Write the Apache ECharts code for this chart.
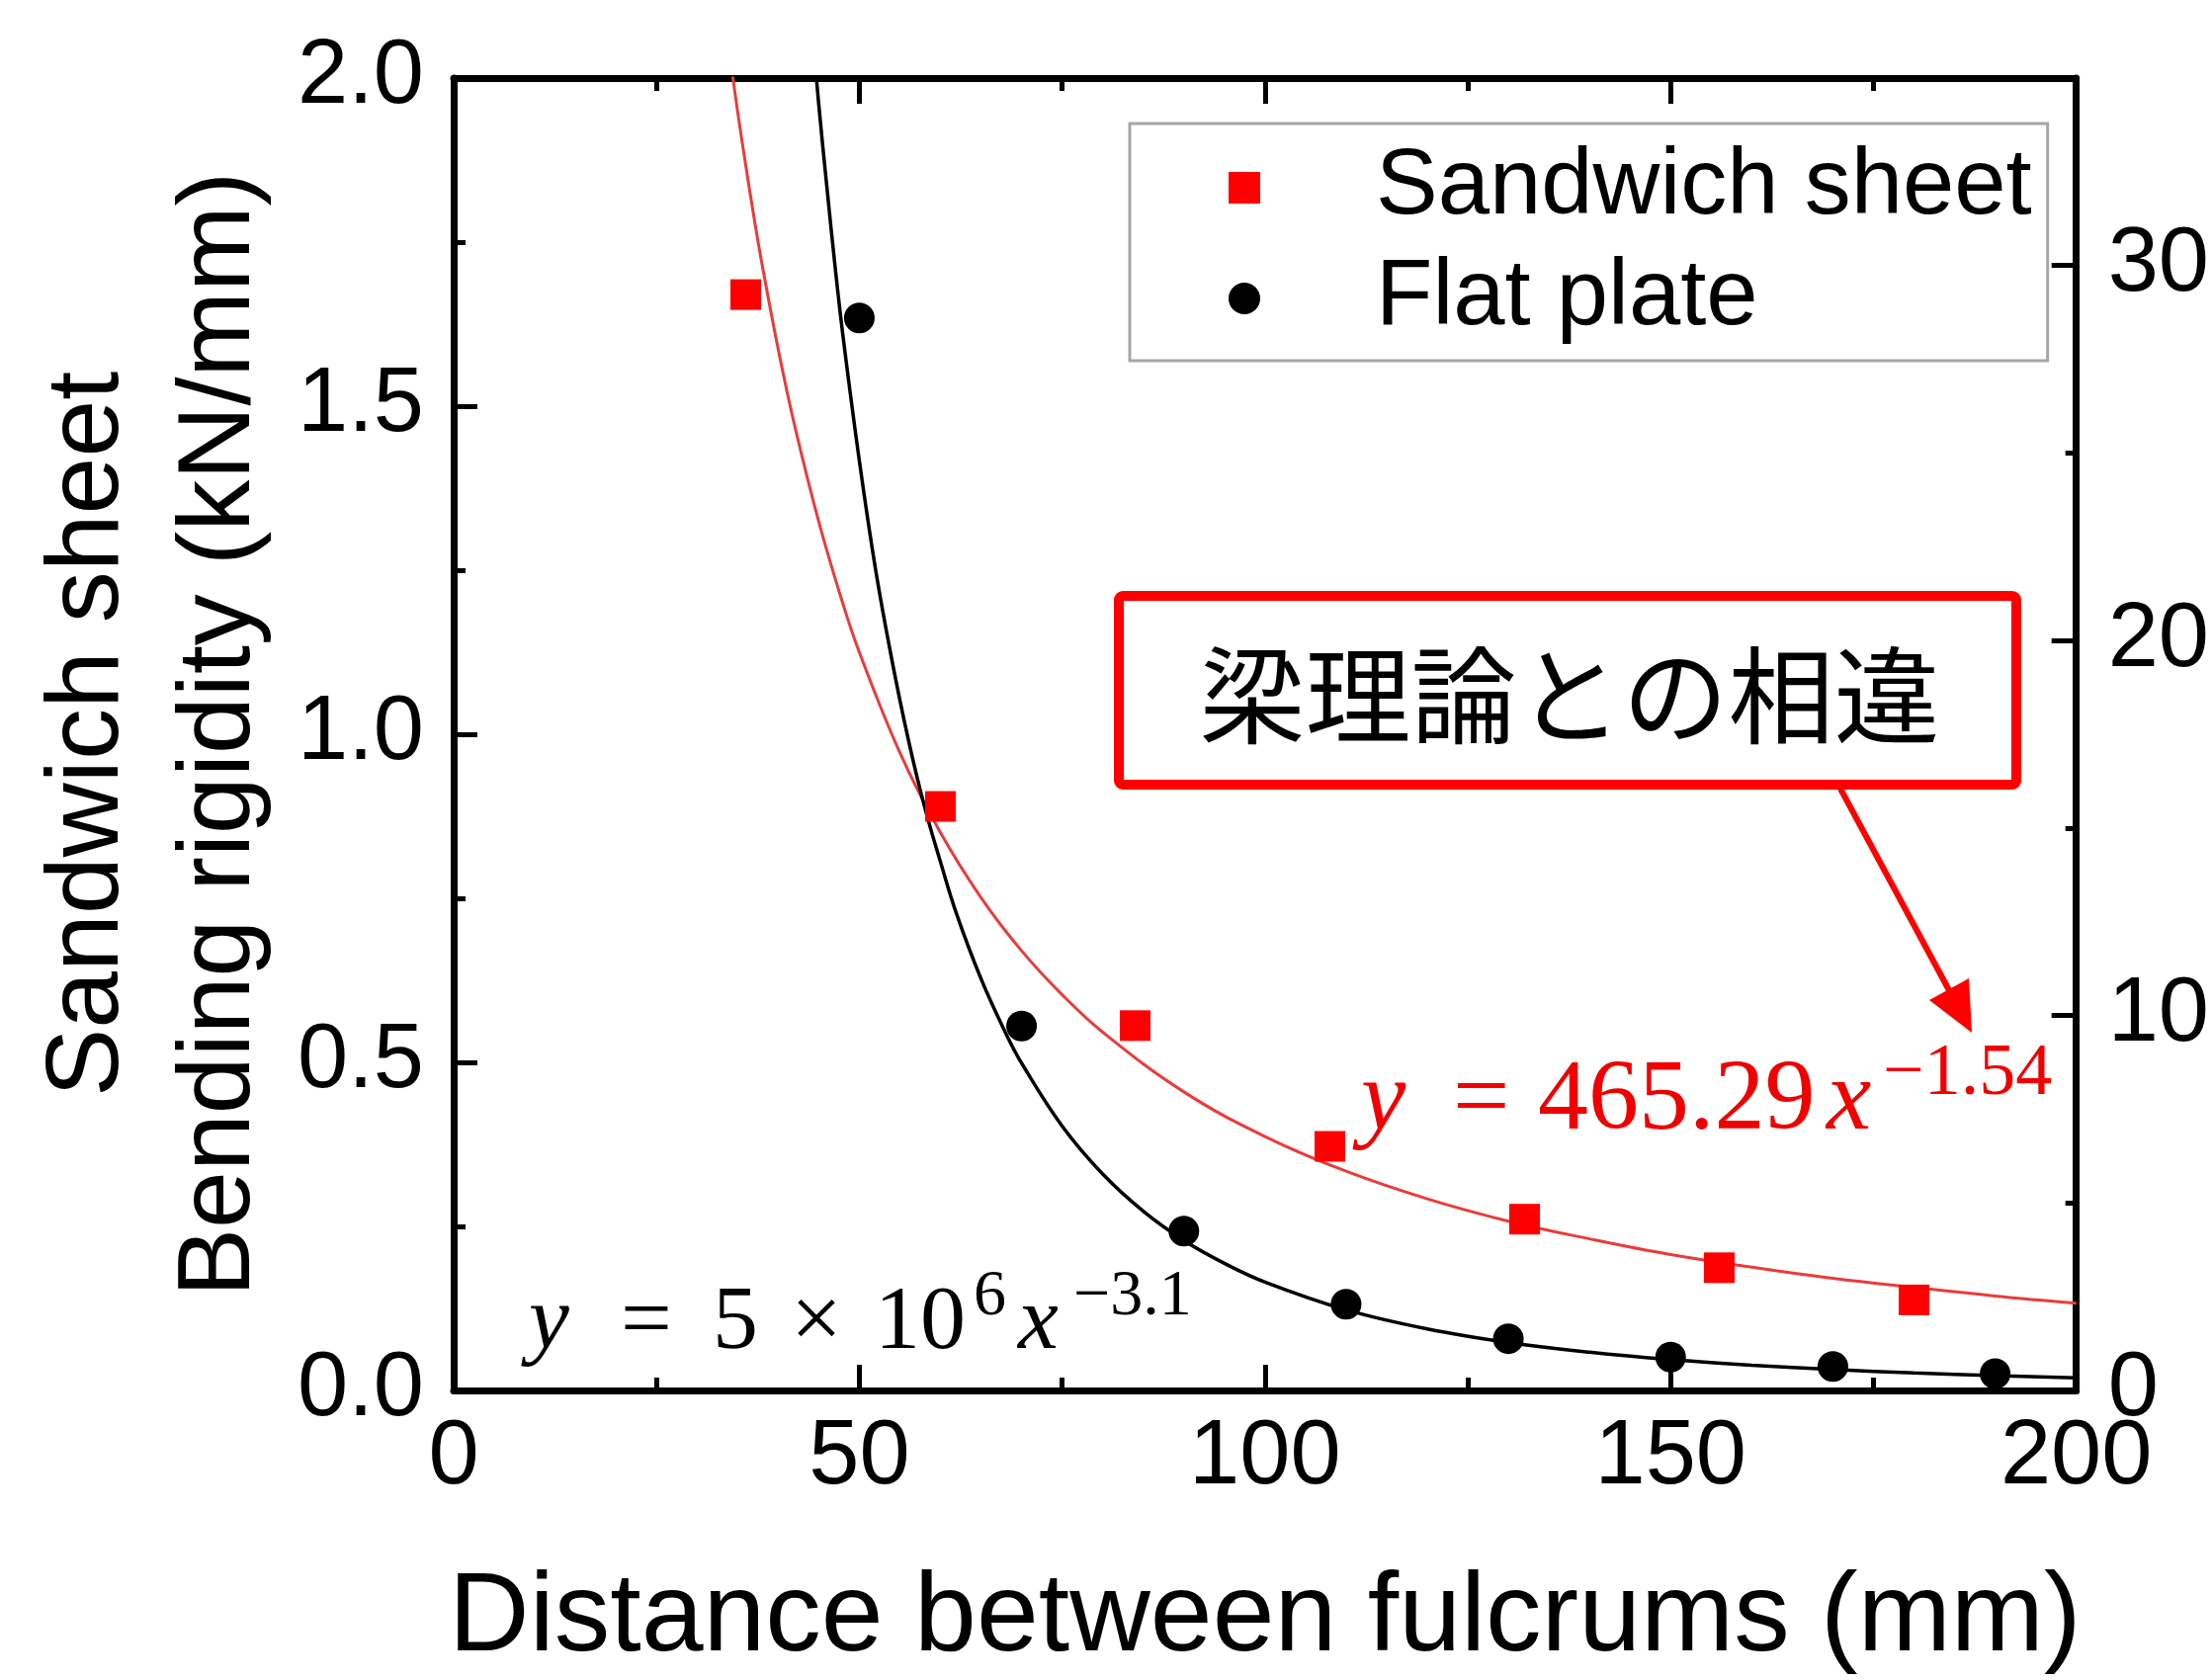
<!DOCTYPE html>
<html>
<head>
<meta charset="utf-8">
<script src="https://cdn.jsdelivr.net/npm/echarts@6/dist/echarts.min.js"></script>
<style>
html,body{margin:0;padding:0;background:#ffffff;}
#chart{width:2238px;height:1700px;}
</style>
</head>
<body>
<div id="chart"></div>
<script>
// ---- data ----
const sandwichX = [36, 60, 84, 108, 132, 156, 180];
const sandwichY = [1.67, 0.89, 0.556, 0.372, 0.261, 0.187, 0.138];
const flatX = [50, 70, 90, 110, 130, 150, 170, 190];
const flatY = [28.6, 9.72, 4.25, 2.30, 1.38, 0.89, 0.64, 0.45];

// fitted curves as drawn in the picture (sampled along the drawn curves)
const sandwichFitX = [34, 35, 36, 37, 38, 40, 42, 45, 48, 50, 55, 60, 65, 70, 75, 80, 90, 100, 110, 120, 130, 140, 150, 160, 170, 180, 190, 200];
const sandwichFitY = [2.038, 1.949, 1.867, 1.789, 1.717, 1.587, 1.472, 1.324, 1.198, 1.125, 0.972, 0.850, 0.751, 0.670, 0.603, 0.546, 0.455, 0.387, 0.334, 0.292, 0.258, 0.231, 0.207, 0.188, 0.171, 0.157, 0.144, 0.133];
const flatFitX = [44, 45, 46, 47, 48, 50, 52, 54, 56, 58, 60, 62, 65, 68, 70, 75, 80, 85, 90, 95, 100, 110, 120, 130, 140, 150, 160, 170, 180, 190, 200];
const flatFitY = [36.8, 34.3, 32.1, 30.0, 28.1, 24.8, 21.9, 19.5, 17.4, 15.6, 14.1, 12.7, 10.98, 9.55, 8.73, 7.05, 5.77, 4.78, 4.00, 3.39, 2.89, 2.15, 1.64, 1.28, 1.02, 0.822, 0.673, 0.557, 0.467, 0.395, 0.337];

const xTicks = [0, 50, 100, 150, 200];
const leftTicks = [0.0, 0.5, 1.0, 1.5, 2.0];
const rightTicks = [0, 10, 20, 30];

const seriesNames = ['Sandwich sheet', 'Flat plate'];
const xTitle = 'Distance between fulcrums (mm)';
const yTitleLines = ['Sandwich sheet', 'Bending rigidity (kN/mm)'];
const noteText = '梁理論との相違';
const redEquation = [
  {t: 'y', it: true}, {t: '='}, {t: '465.29'}, {t: 'x', it: true}, {t: '−1.54', sup: true}
];
const blackEquation = [
  {t: 'y', it: true}, {t: '='}, {t: '5'}, {t: '×'}, {t: '10'}, {t: '6', sup: true}, {t: 'x', it: true}, {t: '−3.1', sup: true}
];

function pairs(xs, ys) { return xs.map((x, i) => [x, ys[i]]); }

const SANS = '"Liberation Sans", Arial, Helvetica, sans-serif';
const SERIF = '"Liberation Serif", "DejaVu Serif", serif';
const AXW = 7;

function axisCommon() {
  return {
    axisLine: {show: true, onZero: false, lineStyle: {color: '#000', width: AXW}},
    splitLine: {show: false},
    minorSplitLine: {show: false}
  };
}

// equation layout (pixel positions of each piece)
const redEqPos = [1377, 1470, 1556, 1848, 1905];
const blackEqPos = [535, 628, 721, 800, 885, 985, 1030, 1086];

function eqElements(eq, pos, yMain, ySup, sizeMain, sizeSup, color) {
  return eq.map((p, i) => ({
    type: 'text',
    z: 50,
    style: {
      text: p.t,
      x: pos[i],
      y: p.sup ? ySup : yMain,
      fill: color,
      font: (p.it ? 'italic ' : '') + (p.sup ? sizeSup : sizeMain) + 'px ' + SERIF,
      align: 'left',
      verticalAlign: 'middle'
    }
  }));
}

const option = {
  animation: false,
  backgroundColor: '#ffffff',
  grid: {left: 459, right: 128, top: 79, bottom: 284, containLabel: false},
  legend: {
    data: seriesNames,
    orient: 'vertical',
    left: 1143,
    top: 125,
    padding: [18, 16, 16, 100],
    itemGap: 18,
    itemWidth: 32,
    itemHeight: 32,
    borderColor: '#a6a6a6',
    borderWidth: 3,
    backgroundColor: '#ffffff',
    selectedMode: false,
    textStyle: {fontSize: 94, fontFamily: SANS, color: '#000', padding: [0, 0, 0, 112]}
  },
  xAxis: [
    Object.assign(axisCommon(), {
      type: 'value', min: xTicks[0], max: xTicks[xTicks.length - 1], interval: xTicks[1] - xTicks[0],
      position: 'bottom',
      axisTick: {show: true, inside: true, length: 26, lineStyle: {color: '#000', width: 5}},
      minorTick: {show: true, splitNumber: 2, length: 13, lineStyle: {color: '#000', width: 5}},
      axisLabel: {show: true, margin: 23, fontSize: 92, fontFamily: SANS, color: '#000'},
      name: xTitle, nameLocation: 'middle', nameGap: 175,
      nameTextStyle: {fontSize: 113, fontFamily: SANS, color: '#000'}
    }),
    Object.assign(axisCommon(), {
      type: 'value', min: xTicks[0], max: xTicks[xTicks.length - 1], interval: xTicks[1] - xTicks[0],
      position: 'top',
      axisTick: {show: true, inside: true, length: 26, lineStyle: {color: '#000', width: 5}},
      minorTick: {show: true, splitNumber: 2, length: 13, lineStyle: {color: '#000', width: 5}},
      axisLabel: {show: false}
    })
  ],
  yAxis: [
    Object.assign(axisCommon(), {
      type: 'value', min: leftTicks[0], max: leftTicks[leftTicks.length - 1], interval: leftTicks[1] - leftTicks[0],
      position: 'left',
      axisTick: {show: true, inside: true, length: 24, lineStyle: {color: '#000', width: 5}},
      minorTick: {show: true, splitNumber: 2, length: 12, lineStyle: {color: '#000', width: 5}},
      axisLabel: {show: true, margin: 30, fontSize: 92, fontFamily: SANS, color: '#000',
        formatter: v => v.toFixed(1)},
      name: yTitleLines.join('\n'), nameLocation: 'middle', nameRotate: 90, nameGap: 161,
      nameTextStyle: {fontSize: 104, lineHeight: 133, fontFamily: SANS, color: '#000', align: 'center'}
    }),
    Object.assign(axisCommon(), {
      type: 'value', min: rightTicks[0], max: 35, interval: rightTicks[1] - rightTicks[0],
      position: 'right',
      axisTick: {show: true, inside: true, length: 25, lineStyle: {color: '#000', width: 5}},
      minorTick: {show: false},
      axisLabel: {show: true, margin: 32, fontSize: 92, fontFamily: SANS, color: '#000', showMaxLabel: false}
    }),
    Object.assign(axisCommon(), {
      type: 'value', min: rightTicks[0], max: 35, interval: (rightTicks[1] - rightTicks[0]) / 2,
      position: 'right',
      axisLine: {show: false, onZero: false},
      axisTick: {show: true, inside: true, length: 11, lineStyle: {color: '#000', width: 5}},
      axisLabel: {show: false}
    })
  ],
  series: [
    {
      name: 'Sandwich fit', type: 'line', xAxisIndex: 0, yAxisIndex: 0,
      data: pairs(sandwichFitX, sandwichFitY), smooth: 0.4,
      showSymbol: false, clip: true, silent: true,
      lineStyle: {color: '#e83c3c', width: 3}, z: 2
    },
    {
      name: 'Flat fit', type: 'line', xAxisIndex: 0, yAxisIndex: 1,
      data: pairs(flatFitX, flatFitY), smooth: 0.4,
      showSymbol: false, clip: true, silent: true,
      lineStyle: {color: '#000000', width: 3.5}, z: 2
    },
    {
      name: seriesNames[0], type: 'scatter', xAxisIndex: 0, yAxisIndex: 0,
      data: pairs(sandwichX, sandwichY), symbol: 'rect', symbolSize: 31,
      itemStyle: {color: '#ff0000', opacity: 1}, z: 3
    },
    {
      name: seriesNames[1], type: 'scatter', xAxisIndex: 0, yAxisIndex: 1,
      data: pairs(flatX, flatY), symbol: 'circle', symbolSize: 31,
      itemStyle: {color: '#000000', opacity: 1}, z: 3
    }
  ],
  graphic: [
    {
      type: 'rect', z: 40,
      shape: {x: 1132, y: 603, width: 908, height: 191, r: 4},
      style: {fill: '#ffffff', stroke: '#ff0000', lineWidth: 10}
    },
    {
      type: 'text', z: 41,
      style: {text: noteText, x: 1588, y: 703, fill: '#000',
        font: '107px "Noto Sans CJK JP", sans-serif', align: 'center', verticalAlign: 'middle'}
    },
    {
      type: 'line', z: 41,
      shape: {x1: 1862, y1: 798, x2: 1973, y2: 1004},
      style: {stroke: '#ff0000', lineWidth: 6}
    },
    {
      type: 'polygon', z: 41,
      shape: {points: [[1995, 1045], [1992, 990], [1952, 1012]]},
      style: {fill: '#ff0000'}
    }
  ].concat(
    eqElements(redEquation, redEqPos, 1115, 1088, 102, 74, '#f00000'),
    eqElements(blackEquation, blackEqPos, 1340, 1313, 92, 66, '#000000')
  )
};

const chart = echarts.init(document.getElementById('chart'), null, {renderer: 'canvas', width: 2238, height: 1700});
chart.setOption(option);
</script>
</body>
</html>
